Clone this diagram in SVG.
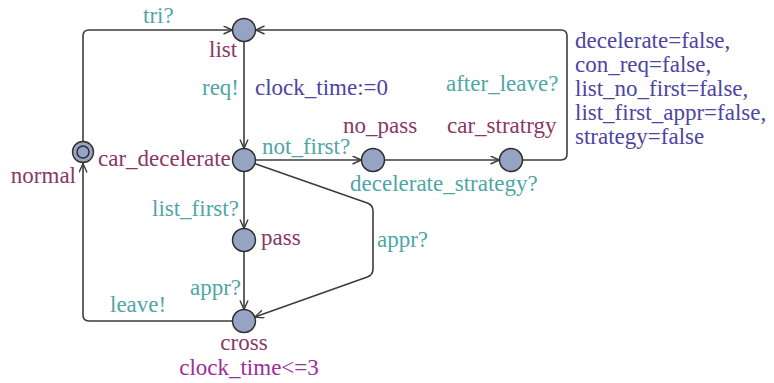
<svg xmlns="http://www.w3.org/2000/svg" width="774" height="383" viewBox="0 0 774 383">
  <defs>
    <marker id="arrow" markerUnits="userSpaceOnUse" markerWidth="12" markerHeight="10" refX="10" refY="4.5" orient="auto">
      <path d="M1,0.5 L10,4.5 L1,8.5" fill="none" stroke="#3c3c3c" stroke-width="1.4"/>
    </marker>
    <circle id="loc" r="11.5" fill="#97a3c3" stroke="#2f2f2f" stroke-width="1.5"/>
  </defs>

  <!-- transitions -->
  <g id="edges" fill="none" stroke="#3c3c3c" stroke-width="1.6">
    <path d="M83,141.5 V36 Q83,30 89,30 H232.5" marker-end="url(#arrow)"/>
    <path d="M244,41.5 V148.5" marker-end="url(#arrow)"/>
    <path d="M255.5,160 H361.5" marker-end="url(#arrow)"/>
    <path d="M384.5,160 H499.5" marker-end="url(#arrow)"/>
    <path d="M522.5,160 H561 Q567,160 567,154 V36 Q567,30 561,30 H255.5" marker-end="url(#arrow)"/>
    <path d="M244,171.5 V228.5" marker-end="url(#arrow)"/>
    <path d="M244,251.5 V309.5" marker-end="url(#arrow)"/>
    <path d="M254.4,163.6 L367.3,203 Q373,205 373,211 V269 Q373,275 367.3,277 L254.8,317.1" marker-end="url(#arrow)"/>
    <path d="M232.5,321 H89 Q83,321 83,315 V163.5" marker-end="url(#arrow)"/>
  </g>

  <!-- transition labels: synchronisations -->
  <g id="sync-labels" fill="#4fa6a6">
    <text font-family="Liberation Serif" font-size="23" x="143" y="23">tri?</text>
    <text font-family="Liberation Serif" font-size="23" x="202" y="95">req!</text>
    <text font-family="Liberation Serif" font-size="23" x="262" y="154">not_first?</text>
    <text font-family="Liberation Serif" font-size="23" x="350" y="191">decelerate_strategy?</text>
    <text font-family="Liberation Serif" font-size="23" x="446" y="91">after_leave?</text>
    <text font-family="Liberation Serif" font-size="23" x="152" y="216">list_first?</text>
    <text font-family="Liberation Serif" font-size="23" x="377" y="247">appr?</text>
    <text font-family="Liberation Serif" font-size="23" x="190" y="295">appr?</text>
    <text font-family="Liberation Serif" font-size="23" x="110" y="312">leave!</text>
  </g>

  <!-- transition labels: updates -->
  <g id="update-labels" fill="#4d44a3">
    <text font-family="Liberation Serif" font-size="23" x="255" y="95">clock_time:=0</text>
    <text font-family="Liberation Serif" font-size="23" x="575" y="48">decelerate=false,</text>
    <text font-family="Liberation Serif" font-size="23" x="575" y="72">con_req=false,</text>
    <text font-family="Liberation Serif" font-size="23" x="575" y="96">list_no_first=false,</text>
    <text font-family="Liberation Serif" font-size="23" x="575" y="120">list_first_appr=false,</text>
    <text font-family="Liberation Serif" font-size="23" x="575" y="144">strategy=false</text>
  </g>

  <!-- locations -->
  <g id="normal">
    <use href="#loc" x="83" y="152" transform="translate(83 152) scale(0.913) translate(-83 -152)"/>
    <circle cx="83" cy="152" r="6" fill="#97a3c3" stroke="#2f2f2f" stroke-width="1.5"/>
    <text font-family="Liberation Serif" font-size="23" fill="#8a3766" x="76" y="183" text-anchor="end">normal</text>
  </g>
  <g id="list">
    <use href="#loc" x="244" y="30"/>
    <text font-family="Liberation Serif" font-size="23" fill="#8a3766" x="209" y="57">list</text>
  </g>
  <g id="car_decelerate">
    <use href="#loc" x="244" y="160"/>
    <text font-family="Liberation Serif" font-size="23" fill="#8a3766" x="98" y="166">car_decelerate</text>
  </g>
  <g id="no_pass">
    <use href="#loc" x="373" y="160"/>
    <text font-family="Liberation Serif" font-size="23" fill="#8a3766" x="343" y="133">no_pass</text>
  </g>
  <g id="car_stratrgy">
    <use href="#loc" x="511" y="160"/>
    <text font-family="Liberation Serif" font-size="23" fill="#8a3766" x="447" y="133">car_stratrgy</text>
  </g>
  <g id="pass">
    <use href="#loc" x="244" y="240"/>
    <text font-family="Liberation Serif" font-size="23" fill="#8a3766" x="261" y="245">pass</text>
  </g>
  <g id="cross">
    <use href="#loc" x="244" y="321"/>
    <text font-family="Liberation Serif" font-size="23" fill="#8a3766" x="244" y="350" text-anchor="middle">cross</text>
    <text font-family="Liberation Serif" font-size="23" fill="#9c2d9e" x="249" y="375" text-anchor="middle">clock_time&lt;=3</text>
  </g>
</svg>
